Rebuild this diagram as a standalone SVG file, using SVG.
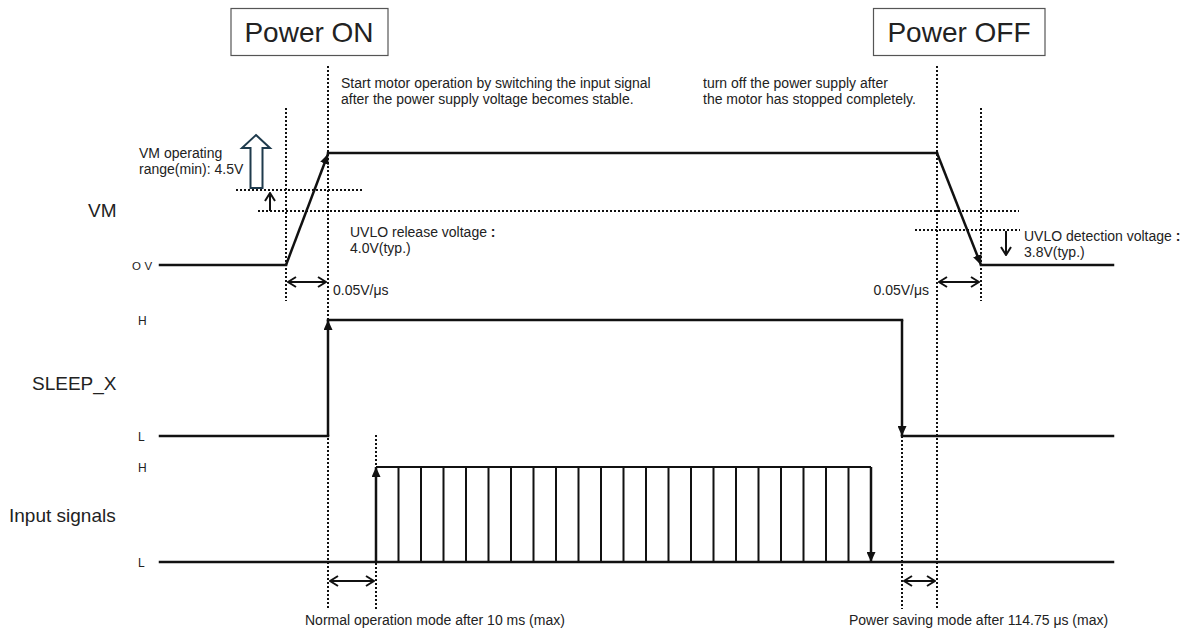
<svg xmlns="http://www.w3.org/2000/svg" width="1189" height="631" viewBox="0 0 1189 631">
<style>
text{font-family:"Liberation Sans",Arial,sans-serif;fill:#222}
.big{font-size:28px}
.lbl{font-size:19px}
.hl{font-size:12px}
.t{font-size:14px}
.w{stroke:#111;stroke-width:2.5;fill:none;stroke-linecap:square}
.p{stroke:#111;stroke-width:2;fill:none}
.dot{stroke:#111;stroke-width:2;stroke-dasharray:2 2;fill:none}
.da{stroke:#111;stroke-width:2;fill:none;marker-start:url(#open);marker-end:url(#open)}
.box{fill:#fff;stroke:#555;stroke-width:1.2}
</style>
<defs>
<marker id="tri" markerUnits="userSpaceOnUse" markerWidth="10" markerHeight="9" refX="10" refY="4.5" orient="auto"><path d="M0,0 L10,4.5 L0,9 z" fill="#111"/></marker>
<marker id="open" markerUnits="userSpaceOnUse" markerWidth="10" markerHeight="12" refX="9" refY="6" orient="auto-start-reverse"><path d="M1,1 L9,6 L1,11" fill="none" stroke="#111" stroke-width="2"/></marker>
</defs>

<g id="power-on">
<rect class="box" x="231" y="8.5" width="157" height="47"/>
<text class="big" x="309" y="42" text-anchor="middle">Power ON</text>
</g>
<g id="power-off">
<rect class="box" x="873.5" y="8.5" width="171.5" height="47"/>
<text class="big" x="959" y="42" text-anchor="middle">Power OFF</text>
</g>

<g id="signal-labels">
<text class="lbl" x="88" y="217">VM</text>
<text x="132" y="270" style="font-size:11.5px;letter-spacing:3.5px">OV</text>
<text class="lbl" x="32" y="390">SLEEP_X</text>
<text class="lbl" x="9" y="522">Input signals</text>
<text class="hl" x="138" y="325">H</text>
<text class="hl" x="138" y="441">L</text>
<text class="hl" x="138" y="472">H</text>
<text class="hl" x="138" y="567">L</text>
</g>

<g id="guides">
<line class="dot" x1="328" y1="66" x2="328" y2="609"/>
<line class="dot" x1="937" y1="66" x2="937" y2="609"/>
<line class="dot" x1="286" y1="108" x2="286" y2="301"/>
<line class="dot" x1="981" y1="108" x2="981" y2="301"/>
<line class="dot" x1="376" y1="435" x2="376" y2="609"/>
<line class="dot" x1="902" y1="436" x2="902" y2="609"/>
<line class="dot" x1="236" y1="190" x2="363" y2="190"/>
<line class="dot" x1="258" y1="211" x2="1019" y2="211"/>
<line class="dot" x1="915" y1="230" x2="1020" y2="230"/>
</g>

<g id="vm-wave">
<line class="w" x1="160" y1="265" x2="286" y2="265"/>
<line class="w" x1="286" y1="265" x2="328" y2="154" style="stroke-linecap:butt" marker-end="url(#tri)"/>
<line class="w" x1="328" y1="153" x2="937" y2="153"/>
<line class="w" x1="937" y1="153" x2="981" y2="265" style="stroke-linecap:butt" marker-end="url(#tri)"/>
<line class="w" x1="981" y1="265" x2="1113" y2="265"/>
</g>

<g id="sleep-wave">
<line class="w" x1="160" y1="436" x2="328" y2="436"/>
<line class="w" x1="328" y1="436" x2="328" y2="320" style="stroke-linecap:butt" marker-end="url(#tri)"/>
<line class="w" x1="328" y1="320" x2="902" y2="320"/>
<line class="w" x1="902" y1="320" x2="902" y2="436" style="stroke-linecap:butt" marker-end="url(#tri)"/>
<line class="w" x1="902" y1="436" x2="1113" y2="436"/>
</g>

<g id="input-wave">
<line class="w" x1="160" y1="562" x2="1113" y2="562"/>
<line class="w" x1="376" y1="562" x2="376" y2="467" style="stroke-linecap:butt" marker-end="url(#tri)"/>
<line class="p" x1="376" y1="467" x2="871" y2="467"/>
<line class="w" x1="871" y1="467" x2="871" y2="562" style="stroke-linecap:butt" marker-end="url(#tri)"/>
<path class="p" d="M398.5,467V562M421,467V562M443.5,467V562M466,467V562M488.5,467V562M511,467V562M533.5,467V562M556,467V562M578.5,467V562M601,467V562M623.5,467V562M646,467V562M668.5,467V562M691,467V562M713.5,467V562M736,467V562M758.5,467V562M781,467V562M803.5,467V562M826,467V562M848.5,467V562"/>
</g>

<g id="connectors">
<line class="da" x1="288" y1="282" x2="326" y2="282"/>
<line class="da" x1="939" y1="282" x2="979" y2="282"/>
<line class="da" x1="330" y1="581" x2="374" y2="581"/>
<line class="da" x1="904" y1="581" x2="935" y2="581"/>
<line x1="270" y1="211" x2="270" y2="193" stroke="#111" stroke-width="2" marker-end="url(#open)"/>
<line x1="1006" y1="231" x2="1006" y2="255" stroke="#111" stroke-width="2" marker-end="url(#open)"/>
<polygon points="256,135 270,148 262.5,148 262.5,188 250.5,188 250.5,148 242,148" fill="#fff" stroke="#1f3b4d" stroke-width="2"/>
</g>

<g id="annotations">
<text class="t" x="341" y="88">Start motor operation by switching the input signal</text>
<text class="t" x="341" y="104">after the power supply voltage becomes stable.</text>
<text class="t" x="703" y="88">turn off the power supply after</text>
<text class="t" x="703" y="104">the motor has stopped completely.</text>
<text class="t" x="139" y="158">VM operating</text>
<text class="t" x="139" y="174">range(min): 4.5V</text>
<text class="t" x="350" y="237">UVLO release voltage <tspan font-weight="bold">:</tspan></text>
<text class="t" x="350" y="253">4.0V(typ.)</text>
<text class="t" x="1024" y="241">UVLO detection voltage <tspan font-weight="bold">:</tspan></text>
<text class="t" x="1024" y="257">3.8V(typ.)</text>
<text class="t" x="333" y="295">0.05V/μs</text>
<text class="t" x="929" y="295" text-anchor="end">0.05V/μs</text>
<text class="t" x="305" y="625">Normal operation mode after 10 ms (max)</text>
<text class="t" x="849" y="625">Power saving mode after 114.75 μs (max)</text>
</g>
</svg>
